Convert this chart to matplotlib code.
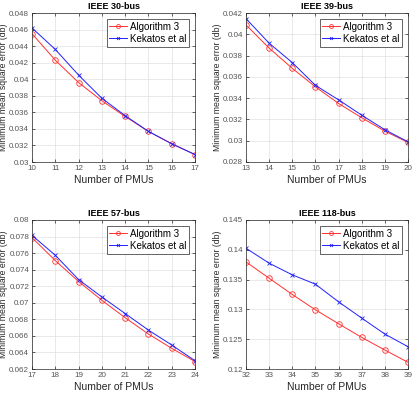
#!/usr/bin/env python3
"""MMSE vs number of PMUs on four IEEE test systems."""

import matplotlib
matplotlib.use('Agg')
import matplotlib.pyplot as plt
import numpy as np

plt.rcParams['font.family'] = ['Liberation Sans', 'DejaVu Sans']

# IEEE 30-bus
pmu_30 = [10, 11, 12, 13, 14, 15, 16, 17]
alg_30 = [0.0455, 0.0423, 0.0396, 0.0374, 0.0355, 0.0337, 0.0322, 0.0309]
kek_30 = [0.0462, 0.0436, 0.0405, 0.0377, 0.0356, 0.0337, 0.0322, 0.0309]

# IEEE 39-bus
pmu_39 = [13, 14, 15, 16, 17, 18, 19, 20]
alg_39 = [0.04088, 0.0387, 0.0368, 0.03506, 0.0335, 0.03216, 0.0309, 0.02984]
kek_39 = [0.04147, 0.03916, 0.03734, 0.0352, 0.03384, 0.0324, 0.03103, 0.0299]

# IEEE 57-bus
pmu_57 = [17, 18, 19, 20, 21, 22, 23, 24]
alg_57 = [0.07787, 0.0751, 0.07257, 0.0703, 0.0682, 0.06622, 0.0645, 0.0629]
kek_57 = [0.07815, 0.07574, 0.0728, 0.0707, 0.0687, 0.0667, 0.0649, 0.0630]

# IEEE 118-bus
pmu_118 = [32, 33, 34, 35, 36, 37, 38, 39]
alg_118 = [0.13797, 0.13523, 0.1325, 0.12993, 0.12759, 0.1253, 0.12318, 0.12112]
kek_118 = [0.14026, 0.13775, 0.1358, 0.13423, 0.13127, 0.12854, 0.12586, 0.12374]

panels = [
    ('IEEE 30-bus', pmu_30, alg_30, kek_30, (0.03, 0.048), 0.002),
    ('IEEE 39-bus', pmu_39, alg_39, kek_39, (0.028, 0.042), 0.002),
    ('IEEE 57-bus', pmu_57, alg_57, kek_57, (0.062, 0.08), 0.002),
    ('IEEE 118-bus', pmu_118, alg_118, kek_118, (0.12, 0.145), 0.005),
]

# axes positions in pixels: left, top, right, bottom
W, H = 415, 394
boxes = [(32, 13, 195, 162), (246, 13, 408, 162),
         (32, 220, 195, 369), (246, 220, 408, 369)]

fig = plt.figure(figsize=(W / 100, H / 100), dpi=100)
dark = '#262626'

for (title, x, alg, kek, ylim, step), (l, t, r, b) in zip(panels, boxes):
    ax = fig.add_axes([l / W, 1 - b / H, (r - l) / W, (b - t) / H])
    ax.plot(x, alg, color='#ff3030', lw=0.7, marker='o', ms=4,
            mfc='none', mew=0.6, label='Algorithm 3')
    ax.plot(x, kek, color='#2020ff', lw=0.7, marker='x', ms=3,
            mew=0.6, label='Kekatos et al')
    ax.set_xlim(x[0], x[-1])
    ax.set_ylim(*ylim)
    ax.set_xticks(x)
    yt = np.arange(ylim[0], ylim[1] + step / 2, step)
    ax.set_yticks(yt)
    ax.set_yticklabels(['{:g}'.format(round(v, 4)) for v in yt])
    ax.grid(True, color='#e0e0e0', lw=0.5)
    ax.set_axisbelow(True)
    ax.tick_params(direction='in', length=2, width=0.5, labelsize=5.8,
                   colors=dark, labelcolor='#555555', top=True, right=True,
                   pad=2)
    for s in ax.spines.values():
        s.set_linewidth(0.5)
        s.set_color(dark)
    ax.set_title(title, fontsize=6.5, fontweight='bold', pad=3)
    ax.set_xlabel('Number of PMUs', fontsize=7.5, color=dark, labelpad=2)
    ax.set_ylabel('Minimum mean square error (db)', fontsize=6.2,
                  color=dark, labelpad=1)
    leg = ax.legend(loc='upper right', fontsize=7, fancybox=False,
                    framealpha=1, edgecolor=dark, handlelength=1.8,
                    borderpad=0.3, labelspacing=0.2, handletextpad=0.3,
                    borderaxespad=0.6, markerscale=0.7)
    leg.get_frame().set_linewidth(0.5)

plt.savefig('out.png', dpi=100)
plt.close()
